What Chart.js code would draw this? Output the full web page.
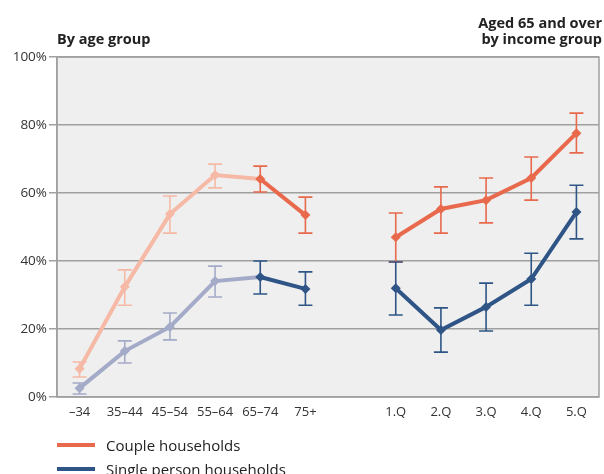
<!DOCTYPE html>
<html>
<head>
<meta charset="utf-8">
<script src="https://cdn.jsdelivr.net/npm/chart.js@4.4.1/dist/chart.umd.min.js"></script>
<style>
    body { margin: 0; background: #fff; }
    #wrap { position: relative; width: 604px; height: 474px; font-family: "Open Sans", sans-serif; color: #222; }
    #chart { position: absolute; left: 0; top: 0; }
    .title { position: absolute; font-weight: bold; font-size: 14.5px; line-height: 16px; }
    #titleLeft { left: 57px; top: 31px; }
    #titleRight { right: 2px; top: 15px; text-align: right; }
    .legend { position: absolute; left: 57px; font-size: 15px; line-height: 18px; display: flex; align-items: center; }
    .legend span.swatch { display: inline-block; width: 38px; height: 4px; margin-right: 11px; }
</style>
</head>
<body>
<div id="wrap">
    <canvas id="chart" width="604" height="474"></canvas>
    <div class="title" id="titleLeft">By age group</div>
    <div class="title" id="titleRight">Aged 65 and over<br>by income group</div>
    <div class="legend" style="top:436px"><span class="swatch" style="background:#E8694C"></span>Couple households</div>
    <div class="legend" style="top:460px"><span class="swatch" style="background:#2F5586"></span>Single person households</div>
</div>
<script>
const categories = ["–34", "35–44", "45–54", "55–64", "65–74", "75+", "", "1.Q", "2.Q", "3.Q", "4.Q", "5.Q"];

const coupleValues = [8.3, 32.4, 53.8, 65.3, 64.1, 53.5, null, 47.0, 55.3, 57.9, 64.4, 77.6];
const coupleLow    = [5.9, 27.0, 48.2, 61.5, 60.3, 48.2, null, 39.7, 48.2, 51.2, 57.9, 71.8];
const coupleHigh   = [10.3, 37.4, 59.1, 68.5, 67.9, 58.8, null, 54.1, 61.8, 64.4, 70.6, 83.5];

const singleValues = [2.6, 13.5, 20.6, 34.1, 35.3, 31.8, null, 32.0, 19.7, 26.5, 34.7, 54.4];
const singleLow    = [0.9, 10.0, 16.8, 29.4, 30.3, 27.0, null, 24.1, 13.2, 19.4, 27.0, 46.5];
const singleHigh   = [4.1, 16.5, 24.7, 38.5, 40.0, 36.8, null, 39.7, 26.2, 33.5, 42.3, 62.3];

const yTicks = [0, 20, 40, 60, 80, 100];

const colors = {
    couple: { dark: "#E8694C", light: "#F6B9A5" },
    single: { dark: "#2F5586", light: "#A4ABC8" }
};
const lightUntil = 3; // age groups up to 55-64 drawn in light tone

function pick(c, i) { return i <= lightUntil ? c.light : c.dark; }

function makeDataset(label, values, low, high, c) {
    return {
        label: label,
        data: values,
        low: low,
        high: high,
        tone: c,
        borderWidth: 4,
        borderColor: c.dark,
        segment: { borderColor: ctx => pick(c, ctx.p0DataIndex) },
        pointStyle: "rectRot",
        pointRadius: 5,
        pointBorderWidth: 0,
        pointBackgroundColor: values.map((v, i) => pick(c, i)),
        spanGaps: false,
        tension: 0
    };
}

// plot background + border
const plotFrame = {
    id: "plotFrame",
    beforeDraw(chart) {
        const { ctx, chartArea: a } = chart;
        ctx.save();
        ctx.fillStyle = "#EFEFEF";
        ctx.fillRect(a.left, a.top, a.right - a.left, a.bottom - a.top);
        ctx.restore();
    },
    afterDraw(chart) {
        const { ctx, chartArea: a } = chart;
        ctx.save();
        ctx.strokeStyle = "#A0A0A0";
        ctx.lineWidth = 1.5;
        ctx.strokeRect(a.left, a.top, a.right - a.left, a.bottom - a.top);
        ctx.restore();
    }
};

// error bars from low/high arrays
const errorBars = {
    id: "errorBars",
    beforeDatasetsDraw(chart) {
        const ctx = chart.ctx;
        const x = chart.scales.x, y = chart.scales.y;
        chart.data.datasets.forEach(ds => {
            ds.low.forEach((lo, i) => {
                const hi = ds.high[i];
                if (lo == null || hi == null) return;
                const px = x.getPixelForValue(i);
                const y1 = y.getPixelForValue(lo), y2 = y.getPixelForValue(hi);
                ctx.save();
                ctx.strokeStyle = pick(ds.tone, i);
                ctx.lineWidth = 1.6;
                ctx.beginPath();
                ctx.moveTo(px, y1); ctx.lineTo(px, y2);
                ctx.moveTo(px - 7, y1); ctx.lineTo(px + 7, y1);
                ctx.moveTo(px - 7, y2); ctx.lineTo(px + 7, y2);
                ctx.stroke();
                ctx.restore();
            });
        });
    }
};

new Chart(document.getElementById("chart"), {
    type: "line",
    data: {
        labels: categories,
        datasets: [
            makeDataset("Couple households", coupleValues, coupleLow, coupleHigh, colors.couple),
            makeDataset("Single person households", singleValues, singleLow, singleHigh, colors.single)
        ]
    },
    options: {
        responsive: false,
        animation: false,
        layout: { padding: { top: 57, right: 3, left: 0, bottom: 47 } },
        plugins: { legend: { display: false }, tooltip: { enabled: false } },
        scales: {
            x: {
                offset: true,
                grid: { display: false, drawTicks: false },
                border: { display: false },
                ticks: { color: "#333", font: { family: "Open Sans", size: 13 }, padding: 7, maxRotation: 0, autoSkip: false },
                afterFit: s => { s.height = 30; }
            },
            y: {
                min: 0,
                max: 100,
                afterBuildTicks: s => { s.ticks = yTicks.map(v => ({ value: v })); },
                grid: { color: "#A0A0A0", lineWidth: 1.5, tickLength: 8 },
                border: { display: true, color: "#A0A0A0", width: 1.5 },
                ticks: { color: "#333", font: { family: "Open Sans", size: 13.5 }, padding: 2, callback: v => v + "%" },
                afterFit: s => { s.width = 57; }
            }
        }
    },
    plugins: [plotFrame, errorBars]
});
</script>
</body>
</html>
